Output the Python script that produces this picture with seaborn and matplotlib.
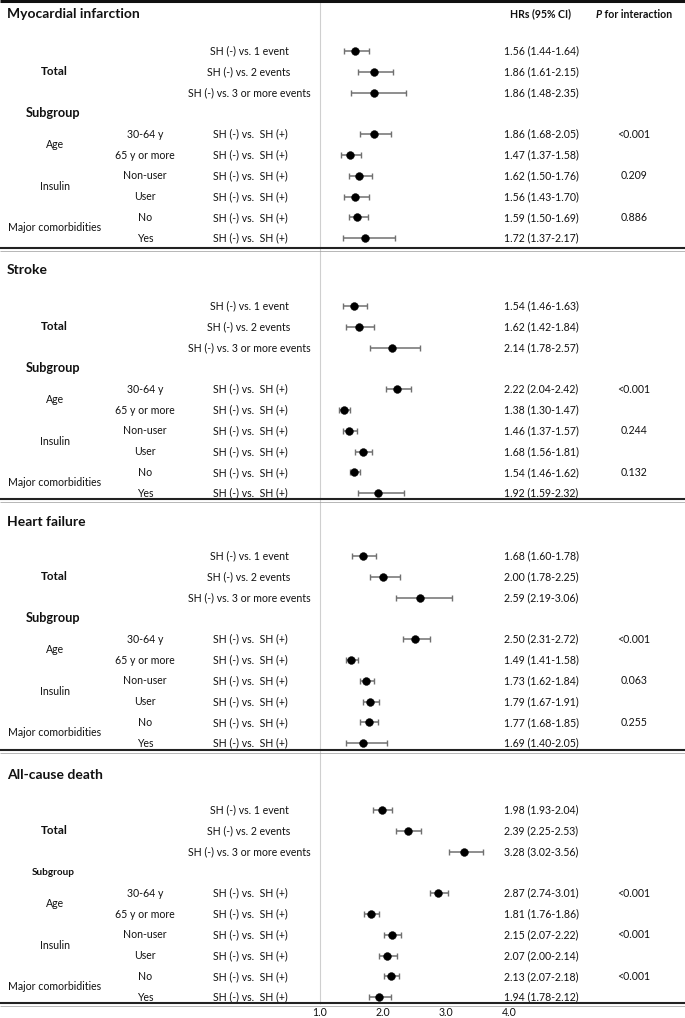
import matplotlib
matplotlib.use("Agg")
import matplotlib.pyplot as plt
import numpy as np
import pandas as pd
import seaborn as sns

# ---------------- data ----------------
sections = ["Myocardial infarction", "Stroke", "Heart failure", "All-cause death"]
total_labels = ["SH (-) vs. 1 event", "SH (-) vs. 2 events", "SH (-) vs. 3 or more events"]
subgroup_comparison = "SH (-) vs.  SH (+)"
group_labels = ["Age", "Insulin", "Major comorbidities"]
level_labels = ["30-64 y", "65 y or more", "Non-user", "User", "No", "Yes"]
tick_values = [1.0, 2.0, 3.0, 4.0]
tick_labels = ["1.0", "2.0", "3.0", "4.0"]

# point estimates, whisker ends as drawn, and printed HR (95% CI) text
mi_hr = [1.56, 1.86, 1.86, 1.86, 1.47, 1.62, 1.56, 1.59, 1.72]
mi_lo = [1.38, 1.61, 1.49, 1.64, 1.33, 1.46, 1.38, 1.46, 1.37]
mi_hi = [1.78, 2.16, 2.37, 2.12, 1.65, 1.82, 1.77, 1.76, 2.19]
mi_ci = ["1.56 (1.44-1.64)", "1.86 (1.61-2.15)", "1.86 (1.48-2.35)", "1.86 (1.68-2.05)",
         "1.47 (1.37-1.58)", "1.62 (1.50-1.76)", "1.56 (1.43-1.70)", "1.59 (1.50-1.69)",
         "1.72 (1.37-2.17)"]
mi_p = ["<0.001", "0.209", "0.886"]

st_hr = [1.54, 1.62, 2.14, 2.22, 1.38, 1.46, 1.68, 1.54, 1.92]
st_lo = [1.36, 1.42, 1.79, 2.05, 1.30, 1.37, 1.56, 1.47, 1.60]
st_hi = [1.74, 1.85, 2.59, 2.44, 1.48, 1.59, 1.82, 1.64, 2.34]
st_ci = ["1.54 (1.46-1.63)", "1.62 (1.42-1.84)", "2.14 (1.78-2.57)", "2.22 (2.04-2.42)",
         "1.38 (1.30-1.47)", "1.46 (1.37-1.57)", "1.68 (1.56-1.81)", "1.54 (1.46-1.62)",
         "1.92 (1.59-2.32)"]
st_p = ["<0.001", "0.244", "0.132"]

hf_hr = [1.68, 2.00, 2.59, 2.50, 1.49, 1.73, 1.79, 1.77, 1.69]
hf_lo = [1.50, 1.79, 2.21, 2.32, 1.42, 1.63, 1.68, 1.64, 1.41]
hf_hi = [1.89, 2.27, 3.09, 2.75, 1.60, 1.86, 1.93, 1.92, 2.07]
hf_ci = ["1.68 (1.60-1.78)", "2.00 (1.78-2.25)", "2.59 (2.19-3.06)", "2.50 (2.31-2.72)",
         "1.49 (1.41-1.58)", "1.73 (1.62-1.84)", "1.79 (1.67-1.91)", "1.77 (1.68-1.85)",
         "1.69 (1.40-2.05)"]
hf_p = ["<0.001", "0.063", "0.255"]

ad_hr = [1.98, 2.39, 3.28, 2.87, 1.81, 2.15, 2.07, 2.13, 1.94]
ad_lo = [1.84, 2.21, 3.04, 2.75, 1.70, 2.02, 1.93, 2.02, 1.78]
ad_hi = [2.14, 2.60, 3.59, 3.03, 1.94, 2.29, 2.23, 2.26, 2.13]
ad_ci = ["1.98 (1.93-2.04)", "2.39 (2.25-2.53)", "3.28 (3.02-3.56)", "2.87 (2.74-3.01)",
         "1.81 (1.76-1.86)", "2.15 (2.07-2.22)", "2.07 (2.00-2.14)", "2.13 (2.07-2.18)",
         "1.94 (1.78-2.12)"]
ad_p = ["<0.001", "<0.001", "<0.001"]

all_hr = [mi_hr, st_hr, hf_hr, ad_hr]
all_lo = [mi_lo, st_lo, hf_lo, ad_lo]
all_hi = [mi_hi, st_hi, hf_hi, ad_hi]
all_ci = [mi_ci, st_ci, hf_ci, ad_ci]
all_p = [mi_p, st_p, hf_p, ad_p]

# ---------------- layout (pixels) ----------------
W, H = 685, 1018
X_ONE = 320.0      # pixel of HR = 1.0
PX_PER_UNIT = 63.0
first_row = [51, 306, 556, 810]
row_step = 20.8
title_y = [14, 270, 522, 775]
sep_lines = [249, 500, 751, 1004]
data_slots = [0, 1, 2, 4, 5, 6, 7, 8, 9]


def px2hr(px):
    return 1.0 + (px - X_ONE) / PX_PER_UNIT


sns.set_theme(style="white")
plt.rcParams["font.family"] = ["Lato", "DejaVu Sans"]
TXT = "#111111"
FS = 7.6

fig = plt.figure(figsize=(W / 100, H / 100), dpi=100)
ax = fig.add_axes([0, 0, 1, 1])
ax.set_xlim(px2hr(0), px2hr(W))
ax.set_ylim(H, 0)
ax.axis("off")

# build long table
recs = []
for s in range(4):
    for i, slot in enumerate(data_slots):
        recs.append(dict(section=sections[s], hr=all_hr[s][i], lo=all_lo[s][i],
                         hi=all_hi[s][i], y=first_row[s] + slot * row_step))
df = pd.DataFrame(recs)

# reference line at 1.0
ax.vlines(1.0, 0, sep_lines[-1], color="#cfcfcf", lw=0.8, zorder=1)

# whiskers
ax.errorbar(df["hr"], df["y"], xerr=[df["hr"] - df["lo"], df["hi"] - df["hr"]],
            fmt="none", ecolor="#707070", elinewidth=1.1, capsize=2.0, capthick=1.0, zorder=2)
sns.scatterplot(data=df, x="hr", y="y", color="black", s=32, edgecolor="black",
                linewidth=0.3, ax=ax, zorder=3, legend=False)
ax.set_xlabel("")
ax.set_ylabel("")

# horizontal separators
ax.hlines(1.2, px2hr(0), px2hr(W), color="#111111", lw=2.2, zorder=4)
for yl in sep_lines:
    ax.hlines(yl - 0.6, px2hr(0), px2hr(W), color="#222222", lw=1.5, zorder=4)
    ax.hlines(yl + 1.6, px2hr(0), px2hr(W), color="#9a9a9a", lw=0.5, zorder=4)

# texts
for s in range(4):
    r0 = first_row[s]
    ys = [r0 + k * row_step for k in range(10)]
    ax.text(px2hr(7), title_y[s], sections[s], fontsize=10.0, fontweight="bold",
            color=TXT, ha="left", va="center")
    ax.text(px2hr(54), ys[1], "Total", fontsize=8.4, fontweight="bold",
            color=TXT, ha="center", va="center")
    ax.text(px2hr(53), ys[3], "Subgroup", fontsize=9.2 if s < 3 else 7.2, fontweight="bold",
            color=TXT, ha="center", va="center")
    for k, lab in enumerate(total_labels):
        ax.text(px2hr(249), ys[k], lab, fontsize=FS, color=TXT, ha="center", va="center")
    for g, gl in enumerate(group_labels):
        ax.text(px2hr(55), (ys[4 + 2 * g] + ys[5 + 2 * g]) / 2, gl, fontsize=FS,
                color=TXT, ha="center", va="center")
    for j, ll in enumerate(level_labels):
        ax.text(px2hr(145), ys[4 + j], ll, fontsize=FS, color=TXT, ha="center", va="center")
        ax.text(px2hr(250), ys[4 + j], subgroup_comparison, fontsize=FS, color=TXT,
                ha="center", va="center")
    for i, slot in enumerate(data_slots):
        ax.text(px2hr(541), ys[slot], all_ci[s][i], fontsize=FS, color=TXT,
                ha="center", va="center")
    for g in range(3):
        ax.text(px2hr(634), ys[4 + 2 * g], all_p[s][g], fontsize=FS, color=TXT,
                ha="center", va="center")

# column headers
ax.text(px2hr(541), title_y[0], "HRs (95% CI)", fontsize=FS, fontweight="bold",
        color=TXT, ha="center", va="center")
tP = ax.text(px2hr(596), title_y[0], "P", fontsize=FS, fontweight="bold", style="italic",
             color=TXT, ha="left", va="center")
ax.annotate(" for interaction", xy=(1, 0.5), xycoords=tP, fontsize=FS, fontweight="bold",
            color=TXT, ha="left", va="center")

# x tick labels
for tv, tl in zip(tick_values, tick_labels):
    ax.text(tv, 1013, tl, fontsize=FS, color=TXT, ha="center", va="center")

fig.savefig("out.png", dpi=100)
